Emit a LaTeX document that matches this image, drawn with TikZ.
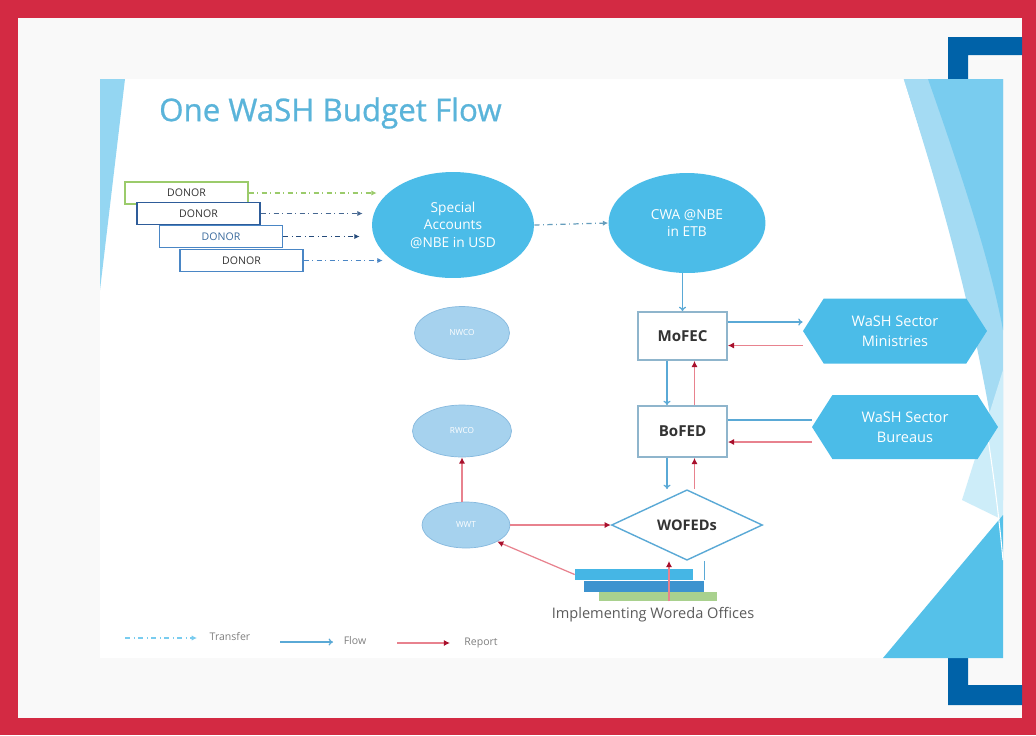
\documentclass[tikz,border=0pt]{standalone}
\usepackage{fontspec}
\setmainfont{Open Sans}
\usetikzlibrary{shapes.geometric,shapes.symbols,arrows.meta}
\definecolor{framered}{HTML}{D32A43}
\definecolor{framegray}{HTML}{F9F9F9}
\definecolor{bracketblue}{HTML}{0062A8}
\definecolor{titleblue}{HTML}{5AB4DA}
\definecolor{skyfill}{HTML}{4BBCE8}
\definecolor{ovalfill}{HTML}{A6D2EE}
\definecolor{ovaledge}{HTML}{86B9DE}
\definecolor{boxedge}{HTML}{8FB5CC}
\definecolor{flowblue}{HTML}{5AA9D6}
\definecolor{reportred}{HTML}{E8828E}
\definecolor{tipred}{HTML}{A8102C}
\definecolor{darktext}{HTML}{333333}
\definecolor{donorgreen}{HTML}{9BCB6B}
\definecolor{donornavy}{HTML}{2E5C99}
\definecolor{donorblue}{HTML}{4A86C5}
\definecolor{barcyan}{HTML}{45B6E5}
\definecolor{barblue}{HTML}{3D93CF}
\definecolor{bargreen}{HTML}{A9D18E}
\definecolor{decolight}{HTML}{A4DBF3}
\definecolor{decopale}{HTML}{CDEDF9}
\definecolor{decomid}{HTML}{79CCEF}
\definecolor{decodeep}{HTML}{55C1E9}

\begin{document}
\begin{tikzpicture}[x=0.02cm,y=-0.02cm,
    donorbox/.style={draw,fill=white,line width=0.8pt,minimum width=2.46cm,minimum height=0.44cm,
      font=\fontsize{6}{7}\selectfont,text=darktext},
    bigoval/.style={ellipse,fill=skyfill,text=white,align=center,inner sep=0pt,
      font=\fontsize{7.8}{10}\selectfont},
    smalloval/.style={ellipse,draw=ovaledge,fill=ovalfill,text=white,inner sep=0pt,
      font=\fontsize{4.7}{5}\selectfont},
    officebox/.style={draw=boxedge,line width=1pt,fill=white,minimum width=1.78cm,
      font=\bfseries\fontsize{8.6}{10}\selectfont,text=darktext},
    sector/.style={signal,signal to=east and west,signal pointer angle=115,fill=skyfill,
      text=white,align=center,inner sep=0pt,font=\fontsize{8.3}{11.3}\selectfont},
    bar/.style={inner sep=0pt,minimum height=0.22cm},
    transfer/.style={dash dot,line width=0.7pt,-{Latex[length=3pt,width=3pt]}},
    flow/.style={draw=flowblue,line width=0.7pt,-{To[length=2.5pt,width=4pt]}},
    report/.style={draw=reportred,line width=0.7pt,-{Latex[length=3.5pt,width=3.5pt,color=tipred]}},
    legendtext/.style={text=gray,font=\fontsize{6}{7}\selectfont}]

    \useasboundingbox (0,0) rectangle (1036,735);
    \fill[framered] (0,0) rectangle (1036,735);
    \fill[framegray] (18,18) rectangle (1022,718);
    \fill[bracketblue] (948,37) -- (1022,37) -- (1022,55) -- (968,55) -- (968,685)
        -- (1022,685) -- (1022,705) -- (948,705) -- cycle;
    \fill[white] (100,79) rectangle (1003,658);
    \fill[decomid!80] (100,79) -- (125,79) -- (100,290) -- cycle;
    \fill[decolight] (903,79) .. controls (950,220) and (985,360) .. (1003,500) -- (1003,79) -- cycle;
    \fill[decomid] (928,79) .. controls (960,170) and (990,260) .. (1003,330) -- (1003,79) -- cycle;
    \fill[decopale] (1003,370) -- (1003,520) -- (962,500) -- cycle;
    \fill[decodeep] (883,658) -- (1003,658) -- (1003,515) -- cycle;
    \draw[white,line width=0.6pt] (903,79) .. controls (960,260) and (990,420) .. (1003,560);

    \node (title) at (153,113) [anchor=west,text=titleblue,
        font=\fontsize{17.8}{20}\selectfont\addfontfeatures{FakeBold=0.8}] {One WaSH Budget Flow};

    \node (donor1) at (186.5,193)  [donorbox,draw=donorgreen] {DONOR};
    \node (donor2) at (198.5,213.5) [donorbox,draw=donornavy] {DONOR};
    \node (donor3) at (221,236.5) [donorbox,draw=donorblue,text=donorblue!80!black] {DONOR};
    \node (donor4) at (241.5,260.5) [donorbox,draw=donorblue] {DONOR};

    \node (special) at (453,225) [bigoval,minimum width=3.24cm,minimum height=2.12cm] {Special\\Accounts\\@NBE in USD};
    \node (cwa)     at (687,223) [bigoval,minimum width=3.14cm,minimum height=2cm] {CWA @NBE\\in ETB};

    \node (mofec) at (682.5,336)   [officebox,minimum height=0.96cm] {MoFEC};
    \node (bofed) at (682.5,431.5) [officebox,minimum height=1.02cm] {BoFED};
    \node (wofeds) at (687,525) [diamond,draw=flowblue,line width=0.8pt,fill=white,inner sep=0pt,
        minimum width=3.02cm,minimum height=1.14cm,font=\bfseries\fontsize{8.3}{10}\selectfont,text=darktext] {WOFEDs};

    \node (ministries) at (895,331) [sector,minimum width=3.68cm,minimum height=1.3cm] {WaSH Sector\\Ministries};
    \node (bureaus)    at (905,427) [sector,minimum width=3.72cm,minimum height=1.28cm] {WaSH Sector\\Bureaus};

    \node (nwco) at (462,333) [smalloval,minimum width=1.9cm,minimum height=1.06cm] {NWCO};
    \node (rwco) at (462,431) [smalloval,minimum width=1.98cm,minimum height=1.04cm] {RWCO};
    \node (wwt)  at (466,525) [smalloval,minimum width=1.76cm,minimum height=0.92cm] {WWT};

    \node (bar1) at (634,574.5) [bar,fill=barcyan,minimum width=2.36cm] {};
    \node (bar2) at (644,586) [bar,fill=barblue,minimum width=2.42cm] {};
    \node (bar3) at (658,596.5) [bar,fill=bargreen,minimum width=2.36cm,minimum height=0.18cm] {};
    \node (offices) at (653,615) [text=darktext!80,font=\fontsize{8.3}{10}\selectfont] {Implementing Woreda Offices};

    \draw[transfer,donorgreen,shorten >=-0.1cm] (donor1.east) -- (donor1.east -| special.west);
    \draw[transfer,donornavy!70!gray,shorten >=0.18cm] (donor2.east) -- (donor2.east -| special.west);
    \draw[transfer,donornavy!80!black,shorten >=0.24cm] (donor3.east) -- (donor3.east -| special.west);
    \draw[transfer,donorblue,shorten >=-0.22cm] (donor4.east) -- (donor4.east -| special.west);
    \draw[transfer,flowblue!70!gray] (special.east) -- (cwa.west);

    \draw[flow] (mofec.north |- cwa.south) -- (mofec.north);
    \draw[flow] ([yshift=0.28cm]mofec.east) -- ([yshift=0.28cm]mofec.east -| ministries.west);
    \draw[report] ([yshift=-0.19cm]mofec.east -| ministries.west) -- ([yshift=-0.19cm]mofec.east);
    \draw[flow] ([xshift=-0.31cm]mofec.south) -- ([xshift=-0.31cm]bofed.north);
    \draw[report] ([xshift=0.24cm]bofed.north) -- ([xshift=0.24cm]mofec.south);
    \draw[flow,-] ([yshift=0.23cm]bofed.east) -- ([yshift=0.23cm]bofed.east -| bureaus.west);
    \draw[report] ([yshift=-0.21cm]bofed.east -| bureaus.west) -- ([yshift=-0.21cm]bofed.east);
    \draw[flow] ([xshift=-0.31cm]bofed.south) -- ([xshift=-0.31cm]bofed.south |- wofeds.north);
    \draw[report] ([xshift=0.24cm]bofed.south |- wofeds.north) -- ([xshift=0.24cm]bofed.south);

    \draw[report] (wwt.east) -- (wofeds.west);
    \draw[report] (rwco.south |- wwt.north) -- (rwco.south);
    \draw[report] (bar1.west) -- (wwt.-28);
    \draw[report] ([xshift=-0.36cm]wofeds.south |- bar3.south) -- ([xshift=-0.36cm]wofeds.south);
    \draw[flow,-] (bar2.north east |- wofeds.south) -- (bar2.north east);

    \coordinate (tra) at (125,638);
    \coordinate (trb) at (197,638);
    \node (trlabel) at (230,637) [legendtext] {Transfer};
    \coordinate (fla) at (280,642);
    \coordinate (flb) at (333,642);
    \node (fllabel) at (355,641) [legendtext] {Flow};
    \coordinate (rea) at (397,643);
    \coordinate (reb) at (450,643);
    \node (relabel) at (481,643) [legendtext] {Report};
    \draw[transfer,decomid] (tra) -- (trb);
    \draw[flow] (fla) -- (flb);
    \draw[report] (rea) -- (reb);
\end{tikzpicture}
\end{document}
